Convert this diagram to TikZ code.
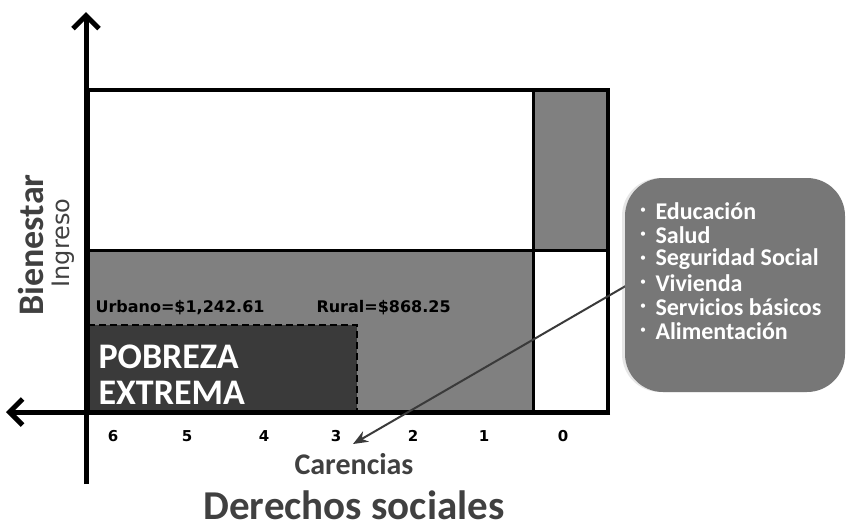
\documentclass[tikz,border=0pt]{standalone}
\usepackage{fontspec}
\setmainfont{Carlito}
\newfontfamily\verd{DejaVu Sans}
\usetikzlibrary{arrows.meta,shadows}
\definecolor{midgray}{HTML}{808080}
\definecolor{darkfill}{HTML}{3A3A3A}
\definecolor{boxgray}{HTML}{777777}
\definecolor{labelgray}{HTML}{404040}

\begin{document}
\begin{tikzpicture}[x=1pt,y=-1pt,
  axis/.style={line width=5pt,-{Straight Barb[length=13pt,width=26pt]}},
  frame/.style={line width=4pt},
  count/.style={font=\verd\bfseries\fontsize{15}{15}\selectfont},
  item/.style={anchor=west,text=white,font=\bfseries\fontsize{24}{24}\selectfont}]
  \useasboundingbox (0,0) rectangle (848,531);
  % corners of the frame
  \coordinate (A) at (88,412);
  \coordinate (B) at (608,412);
  \coordinate (C) at (608,90);
  \coordinate (D) at (88,90);
  % ends of the dividers
  \coordinate (L) at (88,250);
  \coordinate (R) at (608,250);
  \coordinate (T) at (533,90);
  \coordinate (S) at (533,412);
  % the four cells
  \fill[midgray] (L) rectangle (S);
  \fill[midgray] (T) rectangle (R);
  % extreme poverty box
  \coordinate (P) at (88,325);
  \coordinate (Q) at (357,325);
  \coordinate (Q0) at (357,412);
  \fill[darkfill] (P) rectangle (Q0);
  \draw[dashed, dash pattern=on 7pt off 4pt, line width=2.2pt] (P) -- (Q) -- (Q0);
  % frame and dividers
  \draw[frame] (A) -- (B) -- (C) -- (D) -- cycle;
  \draw[line width=3pt] (L) -- (R);
  \draw[line width=3pt] (T) -- (S);
  % axes
  \coordinate (O) at (86,484);
  \coordinate (Y) at (86,12);
  \coordinate (X0) at (610,412);
  \coordinate (X) at (6,412);
  \draw[axis] (O) -- (Y);
  \draw[axis] (X0) -- (X);
  % axis labels
  \node[rotate=90, text=labelgray, font=\bfseries\fontsize{36}{36}\selectfont] (bien) at (31,245) {Bienestar};
  \node[rotate=90, text=labelgray, font=\verd\fontsize{24}{24}\selectfont] (ingr) at (63,243) {Ingreso};
  \node[text=labelgray, font=\bfseries\fontsize{30}{30}\selectfont] (car) at (354,464) {Carencias};
  \node[anchor=base, inner sep=0pt, text=labelgray, font=\bfseries\fontsize{41}{41}\selectfont] (der) at (354,519) {Derechos sociales};
  % lines of poverty
  \node[anchor=west, font=\verd\bfseries\fontsize{16}{16}\selectfont] (urb) at (92,308) {Urbano=\$1,242.61};
  \node[anchor=west, font=\verd\bfseries\fontsize{16}{16}\selectfont] (rur) at (313,308) {Rural=\$868.25};
  \node[anchor=west, text=white, font=\bfseries\fontsize{36}{36}\selectfont] (pob) at (95,357) {POBREZA};
  \node[anchor=west, text=white, font=\bfseries\fontsize{36}{36}\selectfont] (ext) at (95,393) {EXTREMA};
  % count of deprivations
  \foreach \n/\xx in {6/113,5/187,4/264,3/336,2/413,1/484,0/563}
    \node[count] (c\n) at (\xx,436) {\n};
  % pointer from the list
  \coordinate (src) at (636,280);
  \coordinate (tip) at (353,444);
  \draw[line width=2pt, draw=darkfill, -{Stealth[length=15pt,width=12pt]}] (src) -- (tip);
  % list of social rights
  \node[fill=boxgray, rounded corners=38pt, minimum width=220, minimum height=214,
    drop shadow={shadow xshift=-3pt, shadow yshift=0pt, opacity=.2}] (lista) at (735,285) {};
  \foreach \lbl [count=\i from 0] in {Educación,Salud,Seguridad Social,Vivienda,Servicios básicos,Alimentación}{
    \node[text=white, font=\fontsize{12}{12}\selectfont] (b\i) at (643,{211+24*\i}) {\textbullet};
    \node[item] (it\i) at (652,{211+24*\i}) {\lbl};
  }
\end{tikzpicture}
\end{document}
